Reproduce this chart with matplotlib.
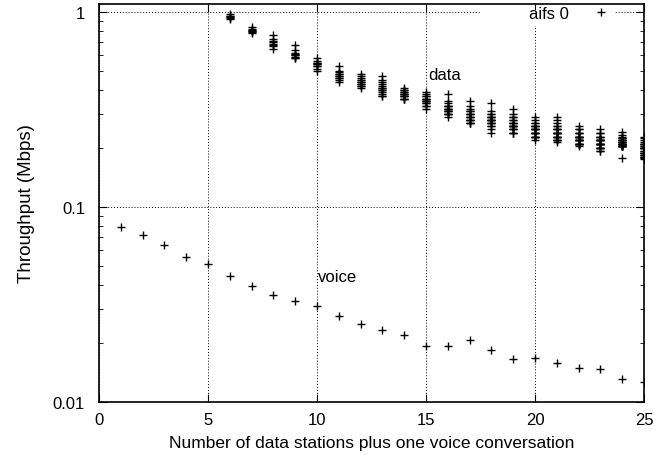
import matplotlib
matplotlib.use('Agg')
import matplotlib.pyplot as plt
from matplotlib.patches import Rectangle
from matplotlib.ticker import FixedLocator, FuncFormatter, LogLocator, NullFormatter

plt.rcParams['font.family'] = ['Liberation Sans', 'DejaVu Sans']

# voice throughput, one voice conversation per run
voice_x = list(range(1, 26))
voice_y = [0.0788, 0.0718, 0.0638, 0.0556, 0.0508, 0.0441, 0.0395, 0.0355, 0.0328, 0.0310,
           0.0275, 0.0252, 0.0234, 0.0221, 0.0194, 0.0193, 0.0209, 0.0184, 0.0166, 0.0169,
           0.0159, 0.0150, 0.0148, 0.0132, 0.0127]

# per-station data throughput for each number of data stations
data_x = list(range(6, 26))
data_y = [
    [0.98, 0.96, 0.95, 0.94, 0.93, 0.92],
    [0.84, 0.82, 0.81, 0.80, 0.80, 0.79, 0.78],
    [0.76, 0.73, 0.71, 0.70, 0.69, 0.68, 0.67, 0.65],
    [0.68, 0.64, 0.62, 0.61, 0.60, 0.60, 0.59, 0.58, 0.58],
    [0.58, 0.56, 0.55, 0.55, 0.54, 0.54, 0.53, 0.53, 0.51, 0.50],
    [0.53, 0.50, 0.49, 0.48, 0.48, 0.47, 0.47, 0.46, 0.46, 0.45, 0.44],
    [0.48, 0.47, 0.46, 0.45, 0.45, 0.44, 0.44, 0.43, 0.43, 0.42, 0.42, 0.41],
    [0.47, 0.45, 0.44, 0.43, 0.42, 0.41, 0.41, 0.40, 0.40, 0.39, 0.38, 0.37, 0.37],
    [0.41, 0.40, 0.40, 0.39, 0.39, 0.38, 0.38, 0.38, 0.37, 0.37, 0.37, 0.36, 0.36, 0.36],
    [0.39, 0.38, 0.37, 0.37, 0.36, 0.36, 0.36, 0.35, 0.35, 0.35, 0.34, 0.34, 0.33, 0.33, 0.32],
    [0.38, 0.35, 0.34, 0.33, 0.33, 0.33, 0.32, 0.32, 0.32, 0.31, 0.31, 0.31, 0.30, 0.30, 0.30, 0.29],
    [0.35, 0.33, 0.32, 0.31, 0.31, 0.30, 0.30, 0.30, 0.29, 0.29, 0.29, 0.28, 0.28, 0.28, 0.27, 0.27, 0.27],
    [0.34, 0.31, 0.30, 0.30, 0.29, 0.29, 0.29, 0.28, 0.28, 0.28, 0.28, 0.27, 0.27, 0.27, 0.26, 0.26, 0.25, 0.24],
    [0.32, 0.30, 0.29, 0.29, 0.28, 0.28, 0.27, 0.27, 0.27, 0.26, 0.26, 0.26, 0.26, 0.25, 0.25, 0.25, 0.24, 0.24, 0.24],
    [0.29, 0.28, 0.27, 0.27, 0.26, 0.26, 0.26, 0.25, 0.25, 0.25, 0.25, 0.24, 0.24, 0.24, 0.24, 0.23, 0.23, 0.23, 0.23, 0.22],
    [0.29, 0.28, 0.27, 0.26, 0.26, 0.25, 0.25, 0.25, 0.24, 0.24, 0.24, 0.24, 0.24, 0.23, 0.23, 0.23, 0.23, 0.22, 0.22, 0.22, 0.215],
    [0.26, 0.25, 0.25, 0.24, 0.24, 0.24, 0.23, 0.23, 0.23, 0.23, 0.23, 0.22, 0.22, 0.22, 0.22, 0.22, 0.21, 0.21, 0.21, 0.21, 0.21, 0.205],
    [0.25, 0.24, 0.24, 0.23, 0.23, 0.23, 0.22, 0.22, 0.22, 0.22, 0.22, 0.21, 0.21, 0.21, 0.21, 0.21, 0.21, 0.20, 0.20, 0.20, 0.20, 0.195, 0.194],
    [0.242, 0.235, 0.23, 0.225, 0.225, 0.22, 0.22, 0.22, 0.215, 0.215, 0.215, 0.21, 0.21, 0.21, 0.21, 0.21, 0.205, 0.205, 0.205, 0.205, 0.205, 0.205, 0.205, 0.178],
    [0.229, 0.225, 0.22, 0.215, 0.21, 0.21, 0.21, 0.205, 0.205, 0.20, 0.20, 0.20, 0.20, 0.195, 0.195, 0.19, 0.19, 0.19, 0.185, 0.185, 0.18, 0.18, 0.18, 0.178, 0.176],
]

fig = plt.figure(figsize=(6.68, 4.56), dpi=100)
ax = fig.add_axes([0.1482, 0.1162, 0.8159, 0.8728])

xs, ys = [], []
for x, vals in zip(data_x, data_y):
    for v in vals:
        xs.append(x)
        ys.append(v)

ax.plot(xs, ys, ls='none', marker='+', ms=6, mew=1, color='black', label='aifs 0', zorder=3)
ax.plot(voice_x, voice_y, ls='none', marker='+', ms=6, mew=1, color='black', zorder=3)

ax.set_yscale('log')
ax.set_xlim(0, 25)
ax.set_ylim(0.01, 1.1)

ax.xaxis.set_major_locator(FixedLocator([0, 5, 10, 15, 20, 25]))
ax.yaxis.set_major_locator(FixedLocator([0.01, 0.1, 1]))
ax.yaxis.set_major_formatter(FuncFormatter(lambda v, p: '%g' % v))
ax.yaxis.set_minor_locator(LogLocator(base=10, subs=range(2, 10)))
ax.yaxis.set_minor_formatter(NullFormatter())
ax.tick_params(which='both', direction='in', top=True, right=True, labelsize=12)
ax.tick_params(which='major', length=6)
ax.tick_params(which='minor', length=3)
ax.tick_params(axis='x', pad=7)
ax.tick_params(axis='y', pad=10)

ax.grid(True, which='major', ls=(0, (1, 2)), color='black', lw=0.7)

# white key box over the grid, like gnuplot
ax.add_patch(Rectangle((0.699, 0.9447), 0.248, 0.0403, transform=ax.transAxes,
                       facecolor='white', edgecolor='none', zorder=1.8))

ax.text(15.1, 0.453, 'data', fontsize=12)
ax.text(10.05, 0.0418, 'voice', fontsize=12)

ax.legend(loc='center right', bbox_to_anchor=(0.936, 0.977), markerfirst=False,
          frameon=False, fontsize=12, handlelength=1.0, handletextpad=1.4,
          borderpad=0, borderaxespad=0)

ax.set_xlabel('Number of data stations plus one voice conversation', fontsize=12.5, labelpad=6)
ax.set_ylabel('Throughput (Mbps)', fontsize=13.5, labelpad=13)

for s in ax.spines.values():
    s.set_linewidth(1.2)

fig.savefig('out.png', dpi=100)
